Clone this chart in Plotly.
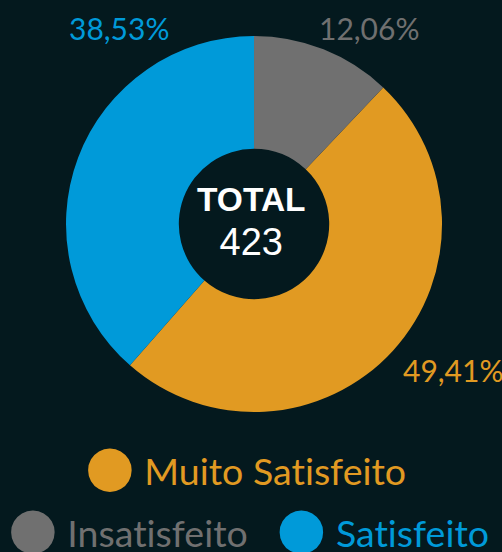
import plotly.graph_objects as go

labels = ["Muito Satisfeito", "Insatisfeito", "Satisfeito"]
values = [209, 51, 163]
colors = ["#E19A22", "#707070", "#009AD9"]
total_label = "TOTAL"

BG = "#04191E"
total = sum(values)
rot = 360 * values[1] / total

def pct(v):
    return f"{100 * v / total:.2f}".replace(".", ",") + "%"

fig = go.Figure()
fig.add_trace(go.Pie(
    labels=labels,
    values=values,
    marker=dict(colors=colors, line=dict(width=0)),
    hole=0.40,
    sort=False,
    direction="counterclockwise",
    rotation=rot,
    textinfo="none",
    showlegend=False,
    domain=dict(x=[0.1315, 0.8805], y=[0.2536, 0.9348]),
    hoverinfo="label+value+percent",
))

# percentage labels (positions in paper space)
label_pos = {0: (452.5 / 502, 1 - 370 / 552), 1: (369 / 502, 1 - 28.5 / 552), 2: (119 / 502, 1 - 28 / 552)}
for i, (lx, ly) in label_pos.items():
    fig.add_annotation(x=lx, y=ly, xref="paper", yref="paper", xanchor="center", yanchor="middle",
                       text=pct(values[i]), showarrow=False,
                       font=dict(family="Lato", size=30, color=colors[i]))

fig.add_annotation(
    x=251.5 / 502, y=(552 - 222) / 552, xref="paper", yref="paper",
    xanchor="center", yanchor="middle",
    text=f"<b>{total_label}</b><br><span style='font-size:38px'>{total}</span>",
    showarrow=False, font=dict(family="Liberation Sans", size=33.5, color="#FFFFFF"),
)

def legend_item(i):
    return (f"<span style='color:{colors[i]};font-family:DejaVu Sans;font-size:57px'>\u25CF</span>"
            f" <span style='color:{colors[i]};font-variant-ligatures:none'>{labels[i]}</span>")

fig.add_annotation(x=245.5 / 502, y=1 - 500 / 552, xref="paper", yref="paper",
                   xanchor="center", yanchor="bottom",
                   text=legend_item(0), showarrow=False,
                   font=dict(family="Lato", size=37.5))
fig.add_annotation(x=248.5 / 502, y=1 - 562 / 552, xref="paper", yref="paper",
                   xanchor="center", yanchor="bottom",
                   text=legend_item(1) + "   " + legend_item(2), showarrow=False,
                   font=dict(family="Lato", size=37.5))

fig.update_layout(
    width=502, height=552,
    margin=dict(l=0, r=0, t=0, b=0),
    paper_bgcolor=BG, plot_bgcolor=BG,
    separators=",.",
)

fig.write_html("out.html", config={"displayModeBar": False},
               post_script="document.body.style.margin='0';document.body.style.overflow='hidden';")
